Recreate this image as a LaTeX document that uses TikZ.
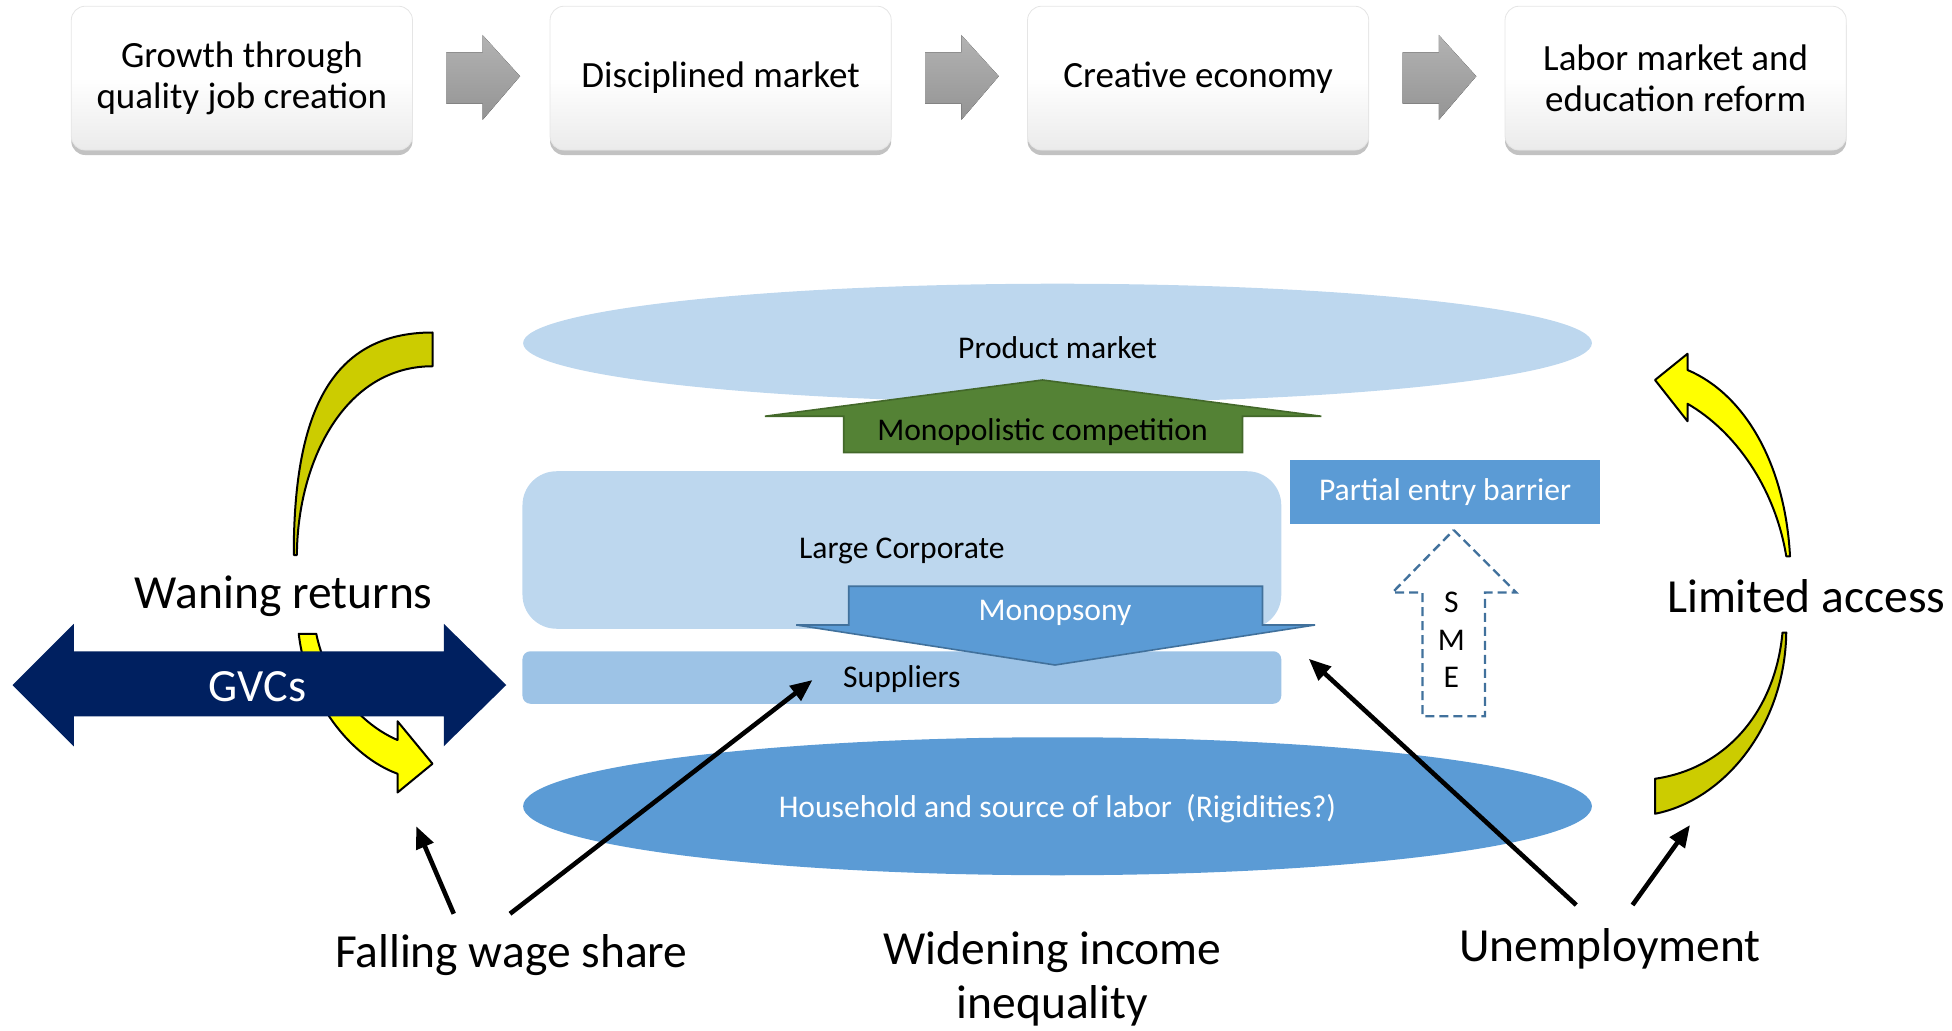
\documentclass[tikz,border=0pt]{standalone}
\usepackage{fontspec}
\setmainfont{Carlito}
\usetikzlibrary{shadows,shapes.geometric,arrows.meta}
\definecolor{lightblue}{HTML}{BDD7EE}
\definecolor{midblue}{HTML}{5B9BD5}
\definecolor{supblue}{HTML}{9DC3E6}
\definecolor{navy}{HTML}{002060}
\definecolor{dgreen}{HTML}{548235}
\definecolor{bordblue}{HTML}{41719C}
\definecolor{oyellow}{HTML}{CCCC00}
\definecolor{byellow}{HTML}{FFFF00}
\tikzset{
  topbox/.style={rectangle, rounded corners=7pt, minimum width=170.6pt, minimum height=71.9pt,
    top color=white, bottom color=black!8, middle color=white, draw=black!10, line width=0.4pt,
    drop shadow={shadow xshift=0pt, shadow yshift=-2.5pt, opacity=0.4, fill=black!60},
    align=center, inner sep=0pt, font=\fontsize{18.5}{20.6}\selectfont},
  grayarrow/.style={top color=black!30, bottom color=black!42, draw=none},
  midtext/.style={font=\fontsize{15.8}{18}\selectfont, inner sep=0pt},
  bigtext/.style={font=\fontsize{23.75}{28.75}\selectfont, inner sep=0pt, align=center},
  blackarrow/.style={line width=2.3pt, -{Triangle[length=11pt,width=9pt]}},
  yshape/.style={draw=black, line width=1pt, line join=round},
}
\begin{document}
\begin{tikzpicture}[x=0.625pt,y=-0.625pt]
\useasboundingbox (0,0) rectangle (1561.6,824.8);

% ---- top row
\node[topbox] (b1) at (193.5,62.5) {Growth through\\quality job creation};
\node[topbox] (b2) at (576.5,62.5) {Disciplined market};
\node[topbox] (b3) at (958.5,62.5) {Creative economy};
\node[topbox] (b4) at (1340.5,62.5) {Labor market and\\education reform};

\foreach \xa in {357,740,1122}{
  \fill[grayarrow] (\xa,42) -- (\xa+29,42) -- (\xa+29,28) -- (\xa+59,61) -- (\xa+29,96)
     -- (\xa+29,83) -- (\xa,83) -- cycle;
}

% ---- product market
\node[ellipse, fill=lightblue, minimum width=534.4pt, minimum height=59.4pt, inner sep=0pt]
  (pm) at (846,274.5) {};
\node[midtext] (pmt) at (846,278) {Product market};

% green up arrow
\filldraw[fill=dgreen, draw=dgreen!80!black, line width=0.8pt]
  (834,304) -- (1057,333) -- (994,333) -- (994,362) -- (675,362) -- (675,333) -- (612,333) -- cycle;
\node[midtext] (mc) at (834,346) {Monopolistic competition};

% large corporate
\node[rectangle, rounded corners=17pt, fill=lightblue, minimum width=379.4pt, minimum height=78.75pt, inner sep=0pt]
  (lc) at (721.5,440) {};
\node[midtext] (lct) at (721.5,441) {Large Corporate};

% partial entry barrier
\node[rectangle, fill=midblue, minimum width=155pt, minimum height=31.9pt, inner sep=0pt,
  text=white, font=\fontsize{15.8}{18}\selectfont] (peb) at (1156,393.5) {Partial entry barrier};

% suppliers
\node[rectangle, rounded corners=4pt, fill=supblue, minimum width=379.4pt, minimum height=26.25pt, inner sep=0pt]
  (sup) at (721.5,542) {};
\node[midtext] (supt) at (721.5,543) {Suppliers};

% monopsony arrow
\filldraw[fill=midblue, draw=bordblue, line width=0.8pt]
  (679,469) -- (1010,469) -- (1010,500) -- (1052,500) -- (844,532) -- (637,500) -- (679,500) -- cycle;
\node[midtext, text=white] (mon) at (844,490) {Monopsony};

% SME dashed arrow
\draw[draw=bordblue, line width=1.2pt, dash pattern=on 4.5pt off 2.5pt]
  (1163,424) -- (1213,474) -- (1188,474) -- (1188,573) -- (1138,573) -- (1138,474) -- (1114,474) -- cycle;
\node[midtext] (smeS) at (1161,482) {S};
\node[midtext] (smeM) at (1161,512) {M};
\node[midtext] (smeE) at (1161,542) {E};

% household ellipse
\node[ellipse, fill=midblue, minimum width=534.4pt, minimum height=69pt, inner sep=0pt]
  (hh) at (846,645) {};
\node[midtext, text=white] (hht) at (846,647) {Household and source of labor~~(Rigidities?)};

% ---- yellow curved arrows
\filldraw[yshape, fill=oyellow]
  (346,266) .. controls (262,266) and (235,335) .. (235,444) -- (237.5,444)
  .. controls (238,370) and (275,293) .. (346,293) -- cycle;
\filldraw[yshape, fill=byellow]
  (239,507) .. controls (245,560) and (280,605) .. (318,619) -- (318,634) -- (346,611)
  -- (318,577) -- (318,592) .. controls (290,580) and (262,550) .. (253,507) -- cycle;
\filldraw[yshape, fill=byellow]
  (1324,304) -- (1350,283) -- (1350,296) .. controls (1395,315) and (1428,370) .. (1432,445)
  -- (1429,445) .. controls (1420,390) and (1388,345) .. (1350,323) -- (1350,337) -- cycle;
\filldraw[yshape, fill=oyellow]
  (1429,506) .. controls (1428,580) and (1380,640) .. (1324,651) -- (1324,623)
  .. controls (1380,615) and (1420,570) .. (1426,506) -- cycle;

% GVCs double arrow
\fill[navy] (10,548) -- (59,499) -- (59,521) -- (355,521) -- (355,499) -- (405,548)
  -- (355,597) -- (355,573) -- (59,573) -- (59,597) -- cycle;
\node[font=\fontsize{23.1}{26}\selectfont, text=white, inner sep=0pt] (gvc) at (206,549) {GVCs};

% ---- big labels
\node[bigtext] (wr) at (227,477) {Waning returns};
\node[bigtext] (la) at (1445,477) {Limited access};
\node[bigtext] (fws) at (409,764) {Falling wage share};
\node[bigtext, font=\fontsize{23.75}{27}\selectfont] (wii) at (842,783) {Widening income\\inequality};
\node[bigtext] (un) at (1288,759) {Unemployment};

% ---- black arrows
\coordinate (a1s) at (363,731);
\coordinate (a1e) at (333,661);
\coordinate (a2s) at (408,731);
\coordinate (a2e) at (650,544);
\coordinate (a3s) at (1261,724);
\coordinate (a3e) at (1047,527);
\coordinate (a4s) at (1306,724);
\coordinate (a4e) at (1352,660);
\draw[blackarrow] (a1s) -- (a1e);
\draw[blackarrow] (a2s) -- (a2e);
\draw[blackarrow] (a3s) -- (a3e);
\draw[blackarrow] (a4s) -- (a4e);
\end{tikzpicture}
\end{document}
